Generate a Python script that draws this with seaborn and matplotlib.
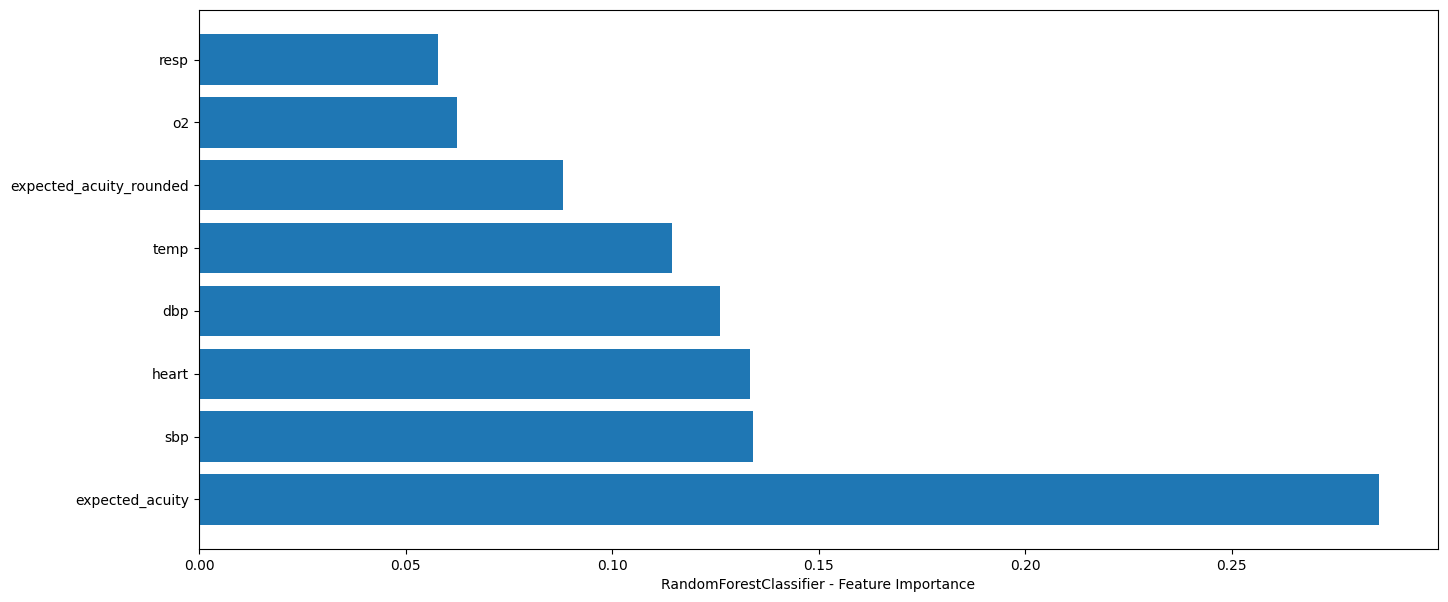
import pandas as pd
import seaborn as sns
import matplotlib.pyplot as plt

# feature importances, top to bottom as shown
features = ['resp', 'o2', 'expected_acuity_rounded', 'temp', 'dbp', 'heart', 'sbp', 'expected_acuity']
importance = [0.0578, 0.0624, 0.0881, 0.1144, 0.1261, 0.1333, 0.1340, 0.2856]

df = pd.DataFrame({'feature': features, 'importance': importance})

fig, ax = plt.subplots(figsize=(14.48, 6.02), dpi=100)
fig.subplots_adjust(left=0.1374, right=0.9931, top=0.9834, bottom=0.088)

sns.barplot(data=df, x='importance', y='feature', orient='h', color='#1f77b4',
            saturation=1, width=0.8, ax=ax)

# mimic matplotlib barh default margins
n = len(features)
pad = 0.05 * (n - 1 + 0.8)
ax.set_ylim(n - 1 + 0.4 + pad, -0.4 - pad)
ax.set_xlim(0, max(importance) * 1.05)

ax.set_xlabel('RandomForestClassifier - Feature Importance')
ax.set_ylabel('')

plt.savefig('out.png', dpi=100)
